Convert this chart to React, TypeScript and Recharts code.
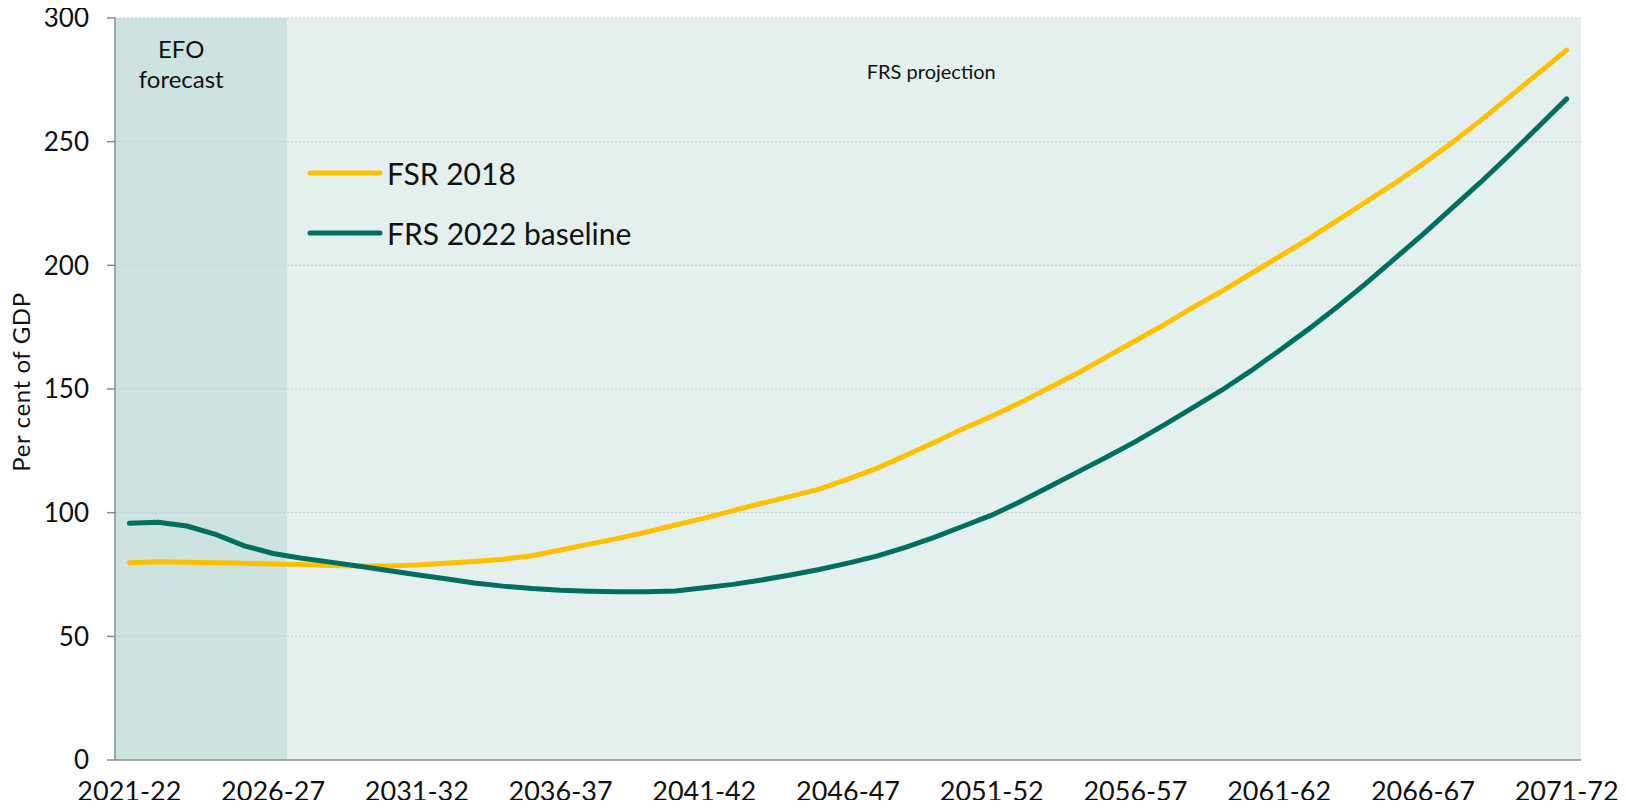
import { LineChart, Line, XAxis, YAxis, ReferenceArea, ReferenceLine, Legend } from "recharts";

const years = [
  "2021-22", "2022-23", "2023-24", "2024-25", "2025-26", "2026-27", "2027-28", "2028-29", "2029-30", "2030-31",
  "2031-32", "2032-33", "2033-34", "2034-35", "2035-36", "2036-37", "2037-38", "2038-39", "2039-40", "2040-41",
  "2041-42", "2042-43", "2043-44", "2044-45", "2045-46", "2046-47", "2047-48", "2048-49", "2049-50", "2050-51",
  "2051-52", "2052-53", "2053-54", "2054-55", "2055-56", "2056-57", "2057-58", "2058-59", "2059-60", "2060-61",
  "2061-62", "2062-63", "2063-64", "2064-65", "2065-66", "2066-67", "2067-68", "2068-69", "2069-70", "2070-71",
  "2071-72",
];

// FSR 2018, per cent of GDP
const fsr2018 = [
  79.8, 80.2, 80.0, 79.8, 79.5, 79.2, 79.0, 78.6, 78.4, 78.4,
  78.8, 79.5, 80.3, 81.2, 82.6, 84.9, 87.3, 89.6, 92.2, 95.0,
  97.8, 100.8, 103.8, 106.6, 109.5, 113.6, 117.9, 123.1, 128.4, 133.9,
  139.0, 144.5, 150.5, 156.5, 163.0, 169.5, 176.0, 183.0, 189.5, 196.5,
  203.5, 210.5, 218.0, 225.5, 233.0, 241.0, 249.5, 258.5, 268.0, 277.5,
  287.0,
];

// FRS 2022 baseline, per cent of GDP
const frs2022 = [
  95.7, 96.1, 94.6, 91.2, 86.6, 83.5, 81.6, 80.0, 78.3, 76.6,
  74.9, 73.3, 71.6, 70.3, 69.3, 68.6, 68.2, 68.0, 68.0, 68.3,
  69.6, 71.0, 72.8, 74.8, 77.0, 79.6, 82.4, 86.0, 90.0, 94.5,
  99.0, 104.5, 110.5, 116.5, 122.5, 128.7, 135.5, 142.5, 149.5, 157.2,
  165.5, 174.0, 183.0, 192.5, 202.5, 212.5, 223.0, 233.5, 244.5, 255.8,
  267.3,
];

const yTicks = [0, 50, 100, 150, 200, 250, 300];
const labelTicks = [0, 5, 10, 15, 20, 25, 30, 35, 40, 45, 50];
const efoYears = 6; // 2021-22 to 2026-27

const FONT = "Lato, 'Noto Sans', sans-serif";
const AXIS = "#8c8c8c";
const YELLOW = "#FFC000";
const GREEN = "#006F5F";

const legendItems = [
  { name: "FSR 2018", color: YELLOW },
  { name: "FRS 2022 baseline", color: GREEN },
];

const data = years.map((year, i) => ({ idx: i, year, fsr: fsr2018[i], frs: frs2022[i] }));
const boundaryTicks = years.map((_, i) => i - 0.5).concat(years.length - 0.5);
const xDomain = [-0.5, years.length - 0.5];

const LegendBox = () => (
  <div style={{ fontFamily: FONT }}>
    {legendItems.map((p) => (
      <div key={p.name} style={{ display: "flex", alignItems: "center", height: 60 }}>
        <svg width={78} height={10}>
          <line x1={4} y1={5} x2={74} y2={5} stroke={p.color} strokeWidth={5} strokeLinecap="round" />
        </svg>
        <span style={{ fontSize: 30, color: "#111", marginLeft: 3 }}>{p.name}</span>
      </div>
    ))}
  </div>
);

export default function App() {
  return (
    <div style={{ width: 1626, height: 808, margin: -8 }}>
      <LineChart width={1626} height={808} data={data} margin={{ top: 18, right: 45, left: 0, bottom: 0 }}>
        <XAxis
          dataKey="idx"
          type="number"
          domain={xDomain}
          ticks={boundaryTicks}
          tick={false}
          height={8}
          tickSize={8}
          stroke={AXIS}
          strokeWidth={1.5}
          allowDataOverflow
        />
        <XAxis
          xAxisId="lbl"
          dataKey="idx"
          type="number"
          domain={xDomain}
          ticks={labelTicks}
          tickFormatter={(v: number) => years[v]}
          axisLine={false}
          tickLine={false}
          tickSize={0}
          tickMargin={14}
          height={40}
          interval={0}
          tick={{ fontSize: 27, fill: "#111", fontFamily: FONT }}
          allowDataOverflow
        />
        <YAxis
          domain={[0, 300]}
          ticks={yTicks}
          width={115}
          tickSize={8}
          tickMargin={18}
          stroke={AXIS}
          strokeWidth={1.5}
          tick={{ fontSize: 26, fill: "#111", fontFamily: FONT }}
          label={() => (
            <text
              x={20}
              y={382}
              transform="rotate(-90, 20, 382)"
              textAnchor="middle"
              dominantBaseline="central"
              fontSize={24}
              letterSpacing={0.6}
              fontFamily={FONT}
              fill="#111"
            >
              Per cent of GDP
            </text>
          )}
        />
        <ReferenceArea
          x1={-0.5}
          x2={efoYears - 0.5}
          y1={0}
          y2={300}
          fill="#cde3df"
          fillOpacity={1}
          stroke="none"
          label={({ viewBox }: any) => (
            <text textAnchor="middle" fontSize={24} fontFamily={FONT} fill="#111">
              <tspan x={viewBox.x + viewBox.width / 2 - 20} y={viewBox.y + 40}>EFO</tspan>
              <tspan x={viewBox.x + viewBox.width / 2 - 20} y={viewBox.y + 70}>forecast</tspan>
            </text>
          )}
        />
        <ReferenceArea
          x1={efoYears - 0.5}
          x2={years.length - 0.5}
          y1={0}
          y2={300}
          fill="#e3f0ed"
          fillOpacity={1}
          stroke="none"
          label={({ viewBox }: any) => (
            <text
              x={viewBox.x + viewBox.width / 2 - 3}
              y={viewBox.y + 61}
              textAnchor="middle"
              fontSize={20}
              fontFamily={FONT}
              fill="#111"
            >
              FRS projection
            </text>
          )}
        />
        {yTicks.slice(1).map((t) => (
          <ReferenceLine key={t} y={t} stroke="#c3cfcc" strokeDasharray="2 2" strokeWidth={1} />
        ))}
        <Legend
          layout="vertical"
          align="center"
          verticalAlign="middle"
          content={<LegendBox />}
          wrapperStyle={{ left: 306, top: 143, width: "auto" }}
        />
        <Line
          type="linear"
          dataKey="fsr"
          name="FSR 2018"
          stroke={YELLOW}
          strokeWidth={5}
          strokeLinecap="round"
          dot={false}
          isAnimationActive={false}
        />
        <Line
          type="linear"
          dataKey="frs"
          name="FRS 2022 baseline"
          stroke={GREEN}
          strokeWidth={5}
          strokeLinecap="round"
          dot={false}
          isAnimationActive={false}
        />
      </LineChart>
    </div>
  );
}
